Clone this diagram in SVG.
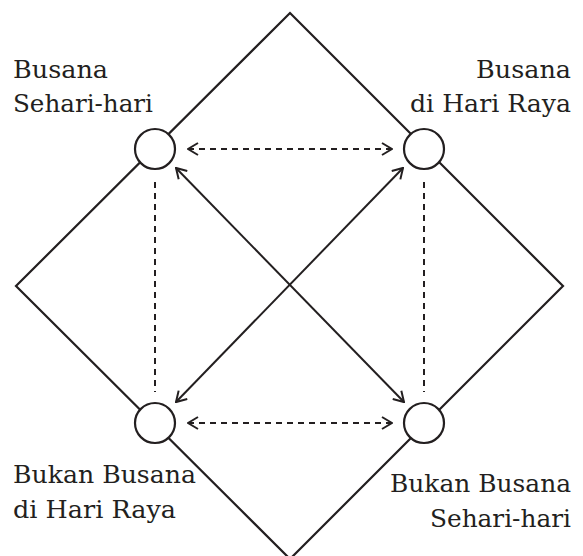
<svg xmlns="http://www.w3.org/2000/svg" width="583" height="556" viewBox="0 0 583 556">
<style>
.edge{fill:none;stroke:#231f20;stroke-width:2.2;stroke-linejoin:miter}
.node{fill:#fff;stroke:#231f20;stroke-width:2.2}
.solid{fill:none;stroke:#231f20;stroke-width:2}
.dash{fill:none;stroke:#231f20;stroke-width:2;stroke-dasharray:6 5}
.lbl{font-family:"DejaVu Serif","Liberation Serif",serif;font-size:24px;fill:#231f20}
</style>
<defs>
<marker id="ah" viewBox="0 0 12 14" refX="11" refY="7" markerWidth="12" markerHeight="14" markerUnits="userSpaceOnUse" orient="auto-start-reverse">
<path d="M1,1 L11,7 L1,13" fill="none" stroke="#231f20" stroke-width="2"/>
</marker>
</defs>
<g id="frame">
<polygon class="edge" points="290,13 563,286 290,559 16,286"/>
</g>
<g id="connectors">
<line class="dash" x1="188" y1="149" x2="392" y2="149" marker-start="url(#ah)" marker-end="url(#ah)"/>
<line class="dash" x1="188" y1="423" x2="392" y2="423" marker-start="url(#ah)" marker-end="url(#ah)"/>
<line class="dash" x1="155" y1="182" x2="155" y2="392"/>
<line class="dash" x1="424" y1="182" x2="424" y2="392"/>
<line class="solid" x1="176" y1="168" x2="404" y2="402" marker-start="url(#ah)" marker-end="url(#ah)"/>
<line class="solid" x1="403" y1="168" x2="176" y2="402" marker-start="url(#ah)" marker-end="url(#ah)"/>
</g>
<g id="n-tl">
<circle class="node" cx="155" cy="149" r="20"/>
<text class="lbl" x="13" y="78" textLength="95" lengthAdjust="spacingAndGlyphs">Busana</text>
<text class="lbl" x="13" y="112" textLength="140" lengthAdjust="spacingAndGlyphs">Sehari-hari</text>
</g>
<g id="n-tr">
<circle class="node" cx="424" cy="149" r="20"/>
<text class="lbl" x="571" y="78" text-anchor="end" textLength="95" lengthAdjust="spacingAndGlyphs">Busana</text>
<text class="lbl" x="571" y="112" text-anchor="end" textLength="161" lengthAdjust="spacingAndGlyphs">di Hari Raya</text>
</g>
<g id="n-bl">
<circle class="node" cx="155" cy="423" r="20"/>
<text class="lbl" x="13" y="483" textLength="183" lengthAdjust="spacingAndGlyphs">Bukan Busana</text>
<text class="lbl" x="13" y="518" textLength="163" lengthAdjust="spacingAndGlyphs">di Hari Raya</text>
</g>
<g id="n-br">
<circle class="node" cx="424" cy="423" r="20"/>
<text class="lbl" x="571" y="492" text-anchor="end" textLength="181" lengthAdjust="spacingAndGlyphs">Bukan Busana</text>
<text class="lbl" x="571" y="527" text-anchor="end" textLength="141" lengthAdjust="spacingAndGlyphs">Sehari-hari</text>
</g>
</svg>
